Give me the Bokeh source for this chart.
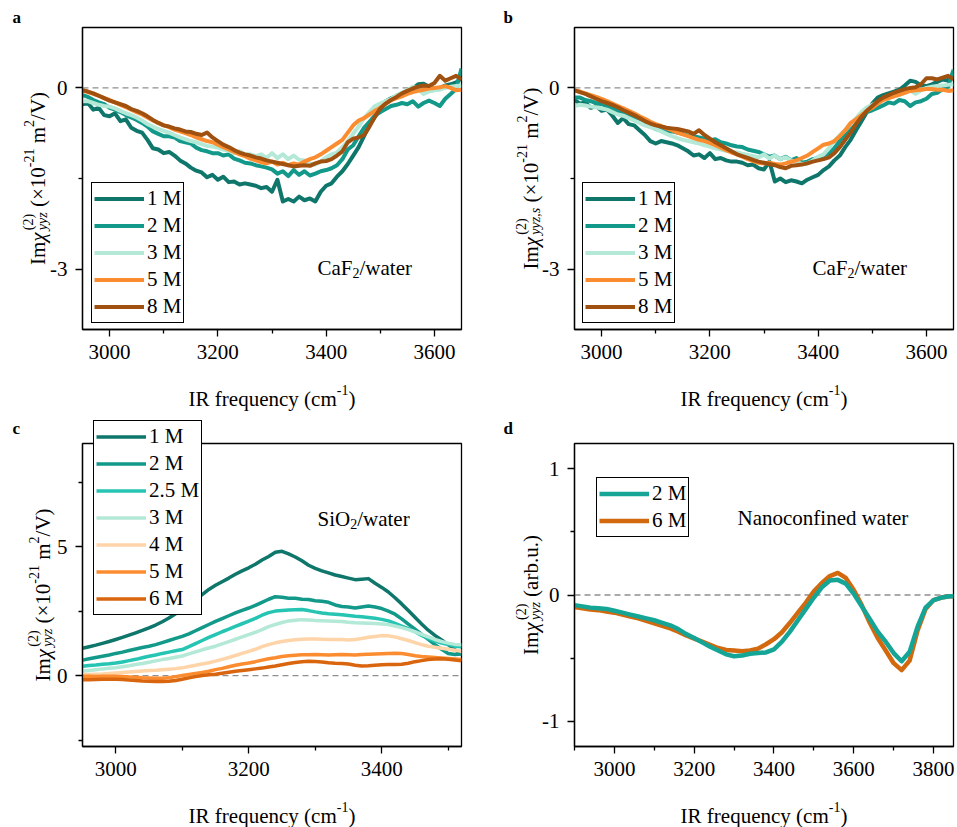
from bokeh.plotting import figure
from bokeh.models import (Range1d, FixedTicker, Span, Legend, LegendItem, Label,
                          GridBox)
from bokeh.embed import file_html
from bokeh.resources import INLINE

FONT = "Liberation Serif"
NB = "\u00a0"

# ---------------- data ----------------
XA = list(range(2950, 3651, 10))          # panels a, b
XC = list(range(2950, 3521, 10))          # panel c
XD = list(range(2900, 3841, 20)) + [3850]  # panel d

LAB_AB = ["1 M", "2 M", "3 M", "5 M", "8 M"]
COL_AB = ["#0e766a", "#12998a", "#b4e8d7", "#fc8c30", "#a0500f"]

A1 = [-0.27, -0.25, -0.36, -0.33, -0.45, -0.47, -0.42, -0.55, -0.52, -0.66,
      -0.71, -0.74, -0.86, -1.00, -1.02, -1.08, -1.06, -1.12, -1.20, -1.25,
      -1.32, -1.37, -1.40, -1.48, -1.44, -1.52, -1.47, -1.56, -1.55, -1.60,
      -1.58, -1.60, -1.62, -1.66, -1.64, -1.72, -1.52, -1.88, -1.84, -1.88,
      -1.80, -1.86, -1.83, -1.88, -1.72, -1.62, -1.58, -1.47, -1.38, -1.26,
      -1.12, -0.98, -0.80, -0.62, -0.48, -0.34, -0.22, -0.17, -0.14, -0.10,
      -0.07, -0.01, 0.06, 0.07, 0.02, -0.01, 0.00, 0.04, 0.06, 0.09,
      0.16]
A2 = [-0.12, -0.15, -0.20, -0.24, -0.27, -0.33, -0.36, -0.40, -0.45, -0.49,
      -0.53, -0.58, -0.64, -0.72, -0.76, -0.80, -0.80, -0.82, -0.88, -0.90,
      -0.92, -0.99, -1.03, -1.05, -1.08, -1.08, -1.12, -1.10, -1.17, -1.20,
      -1.24, -1.25, -1.28, -1.30, -1.32, -1.35, -1.42, -1.38, -1.46, -1.36,
      -1.44, -1.38, -1.45, -1.42, -1.38, -1.36, -1.33, -1.28, -1.18, -1.02,
      -0.95, -0.80, -0.66, -0.56, -0.46, -0.40, -0.35, -0.30, -0.28, -0.25,
      -0.27, -0.22, -0.31, -0.25, -0.21, -0.25, -0.30, -0.18, -0.10, -0.02,
      0.32]
A3 = [-0.22, -0.22, -0.25, -0.28, -0.30, -0.31, -0.34, -0.38, -0.42, -0.45,
      -0.49, -0.54, -0.60, -0.64, -0.68, -0.71, -0.74, -0.78, -0.82, -0.85,
      -0.88, -0.90, -0.93, -0.96, -0.97, -0.99, -1.02, -1.04, -1.08, -1.05,
      -1.10, -1.10, -1.13, -1.10, -1.16, -1.08, -1.16, -1.10, -1.18, -1.12,
      -1.19, -1.20, -1.25, -1.27, -1.22, -1.15, -1.10, -1.07, -0.98, -0.88,
      -0.76, -0.64, -0.50, -0.40, -0.30, -0.26, -0.22, -0.18, -0.12, -0.08,
      -0.04, 0.02, -0.02, -0.10, -0.06, -0.04, -0.03, 0.00, 0.02, 0.03,
      0.04]
A5 = [-0.04, -0.07, -0.10, -0.13, -0.17, -0.20, -0.24, -0.28, -0.32, -0.36,
      -0.40, -0.44, -0.49, -0.54, -0.58, -0.62, -0.65, -0.69, -0.72, -0.75,
      -0.78, -0.82, -0.85, -0.88, -0.90, -0.94, -0.98, -1.02, -1.06, -1.10,
      -1.13, -1.17, -1.20, -1.23, -1.25, -1.22, -1.27, -1.24, -1.28, -1.25,
      -1.27, -1.22, -1.18, -1.15, -1.10, -1.04, -0.98, -0.92, -0.86, -0.74,
      -0.62, -0.54, -0.50, -0.44, -0.38, -0.33, -0.26, -0.20, -0.17, -0.14,
      -0.10, -0.07, -0.05, -0.03, -0.01, 0.00, 0.01, 0.03, 0.00, -0.04,
      -0.03]
A8 = [-0.04, -0.06, -0.09, -0.13, -0.17, -0.21, -0.24, -0.27, -0.30, -0.35,
      -0.38, -0.42, -0.47, -0.53, -0.58, -0.62, -0.64, -0.67, -0.69, -0.72,
      -0.73, -0.76, -0.78, -0.74, -0.82, -0.88, -0.94, -0.98, -1.03, -1.07,
      -1.10, -1.12, -1.15, -1.17, -1.20, -1.22, -1.24, -1.26, -1.28, -1.30,
      -1.29, -1.28, -1.29, -1.25, -1.22, -1.21, -1.18, -1.12, -1.05, -0.90,
      -0.84, -0.82, -0.78, -0.64, -0.48, -0.34, -0.26, -0.20, -0.15, -0.09,
      -0.05, -0.01, 0.02, 0.04, 0.03, 0.08, 0.20, 0.12, 0.16, 0.20,
      0.14]

B1 = [-0.20, -0.26, -0.24, -0.33, -0.30, -0.38, -0.36, -0.46, -0.58, -0.50,
      -0.60, -0.62, -0.70, -0.78, -0.88, -0.92, -0.88, -0.90, -0.92, -0.95,
      -1.00, -1.05, -1.12, -1.10, -1.16, -1.08, -1.18, -1.16, -1.20, -1.22,
      -1.22, -1.24, -1.28, -1.27, -1.33, -1.35, -1.22, -1.55, -1.50, -1.56,
      -1.53, -1.55, -1.58, -1.52, -1.48, -1.44, -1.36, -1.30, -1.20, -1.12,
      -0.98, -0.86, -0.70, -0.55, -0.40, -0.26, -0.16, -0.12, -0.09, -0.06,
      -0.03, 0.04, 0.12, 0.10, 0.04, 0.03, 0.06, 0.10, 0.14, 0.12,
      0.24]
B2 = [-0.16, -0.16, -0.20, -0.22, -0.25, -0.27, -0.30, -0.34, -0.38, -0.42,
      -0.46, -0.50, -0.53, -0.57, -0.63, -0.68, -0.70, -0.71, -0.72, -0.74,
      -0.76, -0.79, -0.80, -0.82, -0.84, -0.87, -0.85, -0.90, -0.92, -0.95,
      -0.97, -0.98, -1.02, -1.04, -1.06, -1.10, -1.14, -1.12, -1.18, -1.14,
      -1.20, -1.16, -1.24, -1.22, -1.18, -1.16, -1.12, -1.08, -1.00, -0.88,
      -0.78, -0.65, -0.55, -0.45, -0.40, -0.37, -0.33, -0.29, -0.24, -0.26,
      -0.20, -0.22, -0.30, -0.24, -0.22, -0.18, -0.10, -0.08, -0.02, 0.02,
      0.30]
B3 = [-0.30, -0.28, -0.29, -0.31, -0.32, -0.34, -0.36, -0.40, -0.44, -0.46,
      -0.50, -0.54, -0.58, -0.62, -0.65, -0.68, -0.72, -0.76, -0.80, -0.83,
      -0.86, -0.88, -0.90, -0.92, -0.95, -0.97, -1.00, -1.02, -1.04, -1.06,
      -1.07, -1.09, -1.11, -1.13, -1.15, -1.10, -1.17, -1.12, -1.18, -1.15,
      -1.20, -1.22, -1.26, -1.25, -1.20, -1.14, -1.10, -1.00, -0.88, -0.78,
      -0.70, -0.60, -0.50, -0.40, -0.32, -0.28, -0.24, -0.20, -0.17, -0.14,
      -0.12, -0.08, -0.04, -0.10, -0.04, 0.00, 0.02, 0.03, 0.04, 0.05,
      0.06]
B5 = [-0.04, -0.06, -0.09, -0.12, -0.15, -0.18, -0.22, -0.26, -0.30, -0.34,
      -0.38, -0.42, -0.47, -0.51, -0.56, -0.60, -0.63, -0.67, -0.70, -0.74,
      -0.77, -0.80, -0.83, -0.86, -0.88, -0.91, -0.95, -0.99, -1.03, -1.07,
      -1.10, -1.14, -1.18, -1.21, -1.24, -1.25, -1.24, -1.26, -1.27, -1.25,
      -1.22, -1.20, -1.16, -1.12, -1.06, -1.00, -0.94, -0.92, -0.88, -0.80,
      -0.70, -0.58, -0.52, -0.45, -0.38, -0.33, -0.26, -0.20, -0.17, -0.14,
      -0.11, -0.08, -0.05, -0.04, -0.03, -0.02, -0.02, -0.03, -0.03, -0.05,
      -0.04]
B8 = [-0.04, -0.07, -0.10, -0.14, -0.18, -0.22, -0.25, -0.28, -0.32, -0.37,
      -0.41, -0.45, -0.50, -0.55, -0.59, -0.62, -0.64, -0.66, -0.67, -0.68,
      -0.70, -0.72, -0.76, -0.70, -0.78, -0.84, -0.90, -0.95, -1.00, -1.05,
      -1.10, -1.13, -1.16, -1.19, -1.22, -1.24, -1.26, -1.28, -1.31, -1.33,
      -1.29, -1.28, -1.27, -1.25, -1.22, -1.20, -1.18, -1.15, -1.08, -0.98,
      -0.86, -0.74, -0.60, -0.48, -0.38, -0.30, -0.22, -0.16, -0.12, -0.08,
      -0.05, -0.02, 0.00, 0.01, 0.06, 0.16, 0.16, 0.14, 0.17, 0.20,
      0.14]

LAB_C = ["1 M", "2 M", "2.5 M", "3 M", "4 M", "5 M", "6 M"]
COL_C = ["#0e766a", "#12998a", "#26c4b2", "#b4e8d7", "#fed4a8", "#fc8c30", "#d9660e"]

C1 = [1.06, 1.12, 1.18, 1.25, 1.32, 1.40, 1.48, 1.57, 1.66, 1.75,
      1.85, 1.96, 2.09, 2.23, 2.40, 2.58, 2.76, 2.95, 3.14, 3.34,
      3.50, 3.64, 3.78, 3.93, 4.06, 4.18, 4.32, 4.48, 4.62, 4.78,
      4.82, 4.72, 4.60, 4.45, 4.28, 4.16, 4.06, 3.98, 3.90, 3.84,
      3.78, 3.72, 3.74, 3.76, 3.58, 3.42, 3.24, 3.02, 2.78, 2.52,
      2.26, 2.00, 1.76, 1.56, 1.38, 1.20, 1.00, 0.84]
C2 = [0.60, 0.65, 0.70, 0.75, 0.80, 0.86, 0.91, 0.97, 1.03, 1.09,
      1.14, 1.20, 1.28, 1.36, 1.44, 1.52, 1.62, 1.74, 1.86, 1.98,
      2.10, 2.21, 2.32, 2.43, 2.53, 2.62, 2.72, 2.84, 2.96, 3.06,
      3.04, 3.00, 3.00, 2.96, 2.95, 2.90, 2.88, 2.84, 2.74, 2.68,
      2.66, 2.62, 2.66, 2.70, 2.66, 2.60, 2.50, 2.38, 2.20, 2.00,
      1.80, 1.60, 1.40, 1.20, 1.02, 0.86, 0.82, 0.84]
C25 = [0.36, 0.39, 0.41, 0.44, 0.46, 0.49, 0.53, 0.58, 0.63, 0.69,
       0.75, 0.80, 0.86, 0.91, 0.96, 1.01, 1.12, 1.24, 1.36, 1.48,
       1.59, 1.70, 1.80, 1.91, 2.01, 2.11, 2.22, 2.34, 2.44, 2.50,
       2.52, 2.54, 2.55, 2.56, 2.52, 2.47, 2.43, 2.40, 2.38, 2.36,
       2.33, 2.30, 2.28, 2.25, 2.22, 2.18, 2.12, 2.02, 1.92, 1.82,
       1.70, 1.56, 1.44, 1.34, 1.26, 1.20, 1.14, 1.12]
C3 = [0.17, 0.20, 0.23, 0.26, 0.28, 0.30, 0.34, 0.38, 0.43, 0.47,
      0.52, 0.57, 0.62, 0.66, 0.71, 0.76, 0.84, 0.92, 1.00, 1.07,
      1.14, 1.23, 1.32, 1.41, 1.50, 1.59, 1.68, 1.78, 1.90, 1.98,
      2.06, 2.12, 2.15, 2.17, 2.16, 2.14, 2.13, 2.12, 2.11, 2.10,
      2.07, 2.05, 2.04, 2.03, 2.02, 2.00, 1.98, 1.92, 1.86, 1.78,
      1.70, 1.60, 1.50, 1.40, 1.32, 1.26, 1.21, 1.20]
C4 = [0.04, 0.04, 0.05, 0.06, 0.08, 0.10, 0.12, 0.14, 0.16, 0.18,
      0.20, 0.21, 0.23, 0.25, 0.27, 0.30, 0.35, 0.40, 0.45, 0.50,
      0.56, 0.63, 0.70, 0.78, 0.86, 0.94, 1.02, 1.12, 1.20, 1.27,
      1.32, 1.36, 1.39, 1.41, 1.42, 1.42, 1.41, 1.40, 1.40, 1.40,
      1.38, 1.40, 1.44, 1.49, 1.52, 1.55, 1.54, 1.50, 1.43, 1.36,
      1.28, 1.20, 1.14, 1.10, 1.06, 1.02, 0.98, 0.94]
C5 = [-0.03, -0.03, -0.04, -0.03, -0.03, -0.03, -0.04, -0.05, -0.06, -0.08,
      -0.09, -0.10, -0.10, -0.08, -0.04, 0.00, 0.04, 0.08, 0.12, 0.17,
      0.23, 0.28, 0.34, 0.40, 0.45, 0.49, 0.54, 0.60, 0.65, 0.69,
      0.74, 0.77, 0.79, 0.81, 0.81, 0.82, 0.81, 0.80, 0.81, 0.82,
      0.81, 0.80, 0.82, 0.83, 0.84, 0.85, 0.86, 0.87, 0.86, 0.82,
      0.77, 0.74, 0.72, 0.70, 0.68, 0.66, 0.64, 0.62]
C6 = [-0.16, -0.16, -0.15, -0.14, -0.14, -0.14, -0.15, -0.17, -0.19, -0.21,
      -0.22, -0.23, -0.23, -0.22, -0.19, -0.14, -0.09, -0.04, 0.00, 0.03,
      0.05, 0.09, 0.13, 0.17, 0.20, 0.23, 0.26, 0.29, 0.33, 0.37,
      0.42, 0.47, 0.51, 0.54, 0.56, 0.55, 0.53, 0.50, 0.48, 0.47,
      0.45, 0.40, 0.37, 0.38, 0.40, 0.42, 0.43, 0.43, 0.44, 0.48,
      0.54, 0.58, 0.62, 0.64, 0.65, 0.63, 0.60, 0.57]

LAB_D = ["2 M", "6 M"]
COL_D = ["#14a596", "#d2690f"]
D2 = [-0.080, -0.090, -0.100, -0.105, -0.110, -0.125, -0.140, -0.155, -0.170, -0.185,
      -0.200, -0.220, -0.240, -0.270, -0.310, -0.340, -0.375, -0.410, -0.440, -0.470,
      -0.485, -0.480, -0.465, -0.460, -0.455, -0.430, -0.370, -0.290, -0.200, -0.110,
      -0.020, 0.060, 0.115, 0.120, 0.090, 0.010, -0.090, -0.190, -0.290, -0.370,
      -0.460, -0.525, -0.450, -0.250, -0.100, -0.040, -0.020, -0.010,
      -0.010]
D6 = [-0.095, -0.105, -0.115, -0.120, -0.130, -0.140, -0.155, -0.170, -0.185, -0.205,
      -0.225, -0.245, -0.265, -0.290, -0.320, -0.345, -0.370, -0.395, -0.420, -0.435,
      -0.440, -0.446, -0.440, -0.425, -0.390, -0.350, -0.295, -0.220, -0.140, -0.060,
      0.030, 0.095, 0.150, 0.175, 0.135, 0.040, -0.080, -0.220, -0.340, -0.440,
      -0.540, -0.595, -0.520, -0.280, -0.110, -0.040, -0.020, -0.010,
      -0.010]

# ---------------- layout helpers ----------------
W_REG = {' ': .25, NB: .25, '(': .333, ')': .333, '×': .564, '-': .333, '.': .25,
         ',': .25, '/': .278, 'I': .333, 'R': .667, 'V': .722, 'M': .889, 'C': .667,
         'F': .556, 'S': .556, 'O': .722, 'N': .722, 'a': .444, 'b': .5, 'c': .444,
         'd': .5, 'e': .444, 'f': .333, 'i': .278, 'm': .778, 'n': .5, 'o': .5,
         'q': .5, 'r': .333, 's': .389, 't': .278, 'u': .5, 'w': .722, 'y': .5,
         'z': .444, 'χ': .55}
W_IT = {'y': .444, 'z': .389, 's': .389, ',': .25}


def text_w(s, size, italic=False):
    t = 0.0
    for ch in s:
        if italic and ch in W_IT:
            t += W_IT[ch]
        elif ch.isdigit():
            t += .5
        else:
            t += W_REG.get(ch, .5)
    return t * size


def advances(pieces):
    adv, pending = [], 0.0
    for (t, s, sh, it, a) in pieces:
        w = text_w(t, s, it)
        if a:
            adv.append(max(w, pending))
            pending = 0.0
        else:
            adv.append(0.0)
            pending = w
    return adv


def mk_label(x, y, t, s, it, vertical, style=None):
    return Label(x=x, y=y, text=t, text_font=FONT, text_font_size=f"{s}px",
                 text_font_style=style or ("italic" if it else "normal"),
                 text_color="black", text_baseline="alphabetic", text_align="left",
                 angle=90 if vertical else 0, angle_units="deg")


def rich_px(p, pieces, ax, ay, vertical=False, center=True):
    """Rich text on the overlay figure, whose data units are page pixels (y down)."""
    adv = advances(pieces)
    total = sum(adv)
    if vertical:
        pos = ay + (total / 2 if center else 0)
        for (t, s, sh, it, a), w in zip(pieces, adv):
            p.add_layout(mk_label(ax - sh, pos, t, s, it, True))
            pos -= w
    else:
        pos = ax - (total / 2 if center else 0)
        for (t, s, sh, it, a), w in zip(pieces, adv):
            p.add_layout(mk_label(pos, ay - sh, t, s, it, False))
            pos += w


def rich_data(p, g, pieces, ax, ay):
    """Rich text inside a panel; ax, ay in pixels from the frame's bottom-left."""
    x0, x1 = g["xr"]
    y0, y1 = g["yr"]
    pos = ax
    for (t, s, sh, it, a), w in zip(pieces, advances(pieces)):
        x = x0 + pos * (x1 - x0) / g["fw"]
        y = y0 + (ay + sh) * (y1 - y0) / g["fh"]
        p.add_layout(mk_label(x, y, t, s, it, False))
        pos += w


def fmt(v):
    return str(int(v)) if float(v).is_integer() else str(v)


def make_fig(g, xmaj, xmin, ymaj, ymin):
    p = figure(width=g["W"], height=g["H"], x_range=Range1d(*g["xr"]),
               y_range=Range1d(*g["yr"]), output_backend="svg", toolbar_location=None,
               min_border_left=g["L"], min_border_right=g["R"],
               min_border_top=g["T"], min_border_bottom=g["B"])
    p.frame_align = False
    p.xgrid.visible = False
    p.ygrid.visible = False
    p.outline_line_color = "black"
    p.outline_line_width = 1.3
    p.outline_line_alpha = 1.0
    p.background_fill_color = "white"
    p.border_fill_color = "white"
    for ax, maj, mn in ((p.xaxis[0], xmaj, xmin), (p.yaxis[0], ymaj, ymin)):
        ax.ticker = FixedTicker(ticks=maj, minor_ticks=mn)
        ax.major_label_overrides = {v: fmt(v) for v in maj}
        ax.major_tick_out = 7
        ax.major_tick_in = 0
        ax.minor_tick_out = 4
        ax.minor_tick_in = 0
        ax.major_tick_line_width = 1.3
        ax.minor_tick_line_width = 1.3
        ax.major_tick_line_color = "black"
        ax.minor_tick_line_color = "black"
        ax.axis_line_width = 1.3
        ax.axis_line_color = "black"
        ax.major_label_text_font = FONT
        ax.major_label_text_font_size = "21px"
        ax.major_label_text_color = "black"
        ax.major_label_standoff = 8
    p.add_layout(Span(location=0, dimension="width", line_color="#8f8f8f",
                      line_dash="6 4", line_width=1.3, level="underlay"))
    return p


def add_legend(p, items, loc):
    leg = Legend(items=items, location=loc, label_text_font=FONT,
                 label_text_font_size="21px", label_text_color="black",
                 glyph_width=50, glyph_height=27, label_height=27, label_standoff=3,
                 padding=2, spacing=0, margin=0, border_line_color="black",
                 border_line_width=1.3, border_line_alpha=1.0,
                 background_fill_color="white", background_fill_alpha=1.0)
    p.add_layout(leg)


def ylab(sub, tail):
    return [("Im", 21, 0, False, True), ("χ", 21, 0, True, True),
            ("(2)", 14, 9, False, False), (sub, 14, -5, True, True)] + tail


TAIL_SI = [(NB + "(×10", 21, 0, False, True), ("-21", 14, 9, False, True),
           (NB + "m", 21, 0, False, True), ("2", 14, 9, False, True),
           ("/V)", 21, 0, False, True)]
TAIL_AU = [(NB + "(arb.u.)", 21, 0, False, True)]
XLAB = [("IR frequency (cm", 21, 0, False, True), ("-1", 14, 9, False, True),
        (")", 21, 0, False, True)]

GA = dict(W=478, H=410, L=82, R=17, T=27, B=81, fw=379, fh=302, xr=(2950, 3650), yr=(-4, 1))
GB = dict(W=479, H=410, L=96, R=4, T=27, B=81, fw=379, fh=302, xr=(2950, 3650), yr=(-4, 1))
GC = dict(W=478, H=417, L=82, R=17, T=33, B=81, fw=379, fh=303, xr=(2950, 3520), yr=(-2.75, 9))
GD = dict(W=479, H=417, L=96, R=4, T=33, B=81, fw=379, fh=303, xr=(2900, 3850), yr=(-1.2, 1.2))


# ---------------- panels a / b ----------------
def panel_ab(g, series, ann_x, legloc):
    p = make_fig(g, [3000, 3200, 3400, 3600], [3100, 3300, 3500], [-3, 0], [-1.5])
    items = []
    for ys, lab, col in zip(series, LAB_AB, COL_AB):
        r = p.line(XA, ys, line_color=col, line_width=4, line_join="round")
        items.append(LegendItem(label=lab, renderers=[r]))
    add_legend(p, items, legloc)
    rich_data(p, g, [("CaF", 21, 0, False, True), ("2", 14, -5, False, True),
                     ("/water", 21, 0, False, True)], ann_x, 62)
    return p


pa = panel_ab(GA, [A1, A2, A3, A5, A8], 235, (9, 6))
pb = panel_ab(GB, [B1, B2, B3, B5, B8], 238, (8, 6))

# ---------------- panel c ----------------
pc = make_fig(GC, [3000, 3200, 3400], [3100, 3300, 3500], [0, 5], [-2.5, 2.5, 7.5])
for ys, col in zip([C1, C2, C25, C3, C4, C5, C6], COL_C):
    pc.line(XC, ys, line_color=col, line_width=3.5, line_join="round")
rich_data(pc, GC, [("SiO", 21, 0, False, True), ("2", 14, -5, False, True),
                   ("/water", 21, 0, False, True)], 235, 228)

# ---------------- panel d ----------------
pd_ = make_fig(GD, [3000, 3200, 3400, 3600, 3800], [2900, 3100, 3300, 3500, 3700],
               [-1, 0, 1], [-0.5, 0.5])
r6 = pd_.line(XD, D6, line_color=COL_D[1], line_width=4.5, line_join="round")
r2 = pd_.line(XD, D2, line_color=COL_D[0], line_width=4.5, line_join="round")
add_legend(pd_, [LegendItem(label=LAB_D[0], renderers=[r2]),
                 LegendItem(label=LAB_D[1], renderers=[r6])], (22, 209))
rich_data(pd_, GD, [("Nanoconfined water", 21, 0, False, True)], 163, 229)

# ---------------- overlay for texts outside the frames (page pixels) ----------------
ov = figure(width=957, height=827, x_range=Range1d(0, 957), y_range=Range1d(827, 0),
            output_backend="svg", toolbar_location=None, min_border=0,
            min_border_left=0, min_border_right=0, min_border_top=0, min_border_bottom=0,
            x_axis_type=None, y_axis_type=None)
ov.frame_align = False
ov.outline_line_color = None
ov.background_fill_alpha = 0
ov.border_fill_alpha = 0
ov.grid.visible = False

# axis titles
rich_px(ov, ylab("yyz", TAIL_SI), 37, 178, vertical=True)
rich_px(ov, ylab("yyz,s", TAIL_SI), 530, 178, vertical=True)
rich_px(ov, ylab("yyz", TAIL_SI), 42, 594.5, vertical=True)
rich_px(ov, ylab("yyz", TAIL_AU), 530, 594.5, vertical=True)
for cx, by in ((271.5, 398), (763.5, 398), (271.5, 815), (763.5, 815)):
    rich_px(ov, XLAB, cx, by)
# panel letters
for t, x, y in (("a", 12, 17), ("b", 503, 17), ("c", 12, 428), ("d", 503, 428)):
    ov.add_layout(mk_label(x, y, t, 17, False, False, style="bold"))

# legend of panel c (it reaches above the frame of c); legend-only renderers
items_c = []
for lab, col in zip(LAB_C, COL_C):
    r = ov.line([float("nan")], [float("nan")], line_color=col, line_width=3.5)
    items_c.append(LegendItem(label=lab, renderers=[r]))
add_legend(ov, items_c, (93, 827 - 615))

grid = GridBox(children=[(pa, 0, 0), (pb, 0, 1), (pc, 1, 0), (pd_, 1, 1),
                         (ov, 0, 0, 2, 2)])
open("out.html", "w").write(file_html(grid, INLINE))
